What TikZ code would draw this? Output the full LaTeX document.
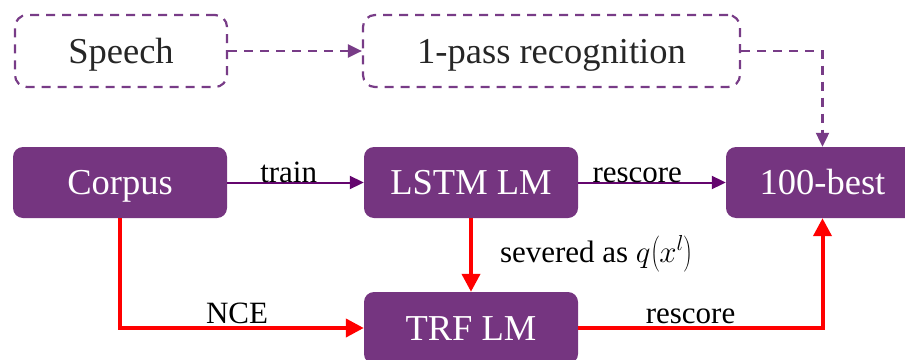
\RequirePackage{fix-cm}
\documentclass[tikz,border=0pt]{standalone}
\usepackage{fontspec}
\setmainfont{Liberation Serif}
\usetikzlibrary{arrows.meta,calc}
\definecolor{boxpurple}{RGB}{117,53,128}
\definecolor{dashpurple}{RGB}{120,60,135}
\definecolor{arrowpurple}{RGB}{100,5,110}
\definecolor{txtgray}{RGB}{38,38,38}
\definecolor{linered}{RGB}{255,0,0}
\begin{document}
\begin{tikzpicture}[x=1pt,y=-1pt,
  bigfont/.style={font=\fontsize{36.5}{40}\selectfont, text height=24pt, text depth=0pt},
  smallfont/.style={font=\fontsize{31}{34}\selectfont},
  solidbox/.style={bigfont, fill=boxpurple, draw=none, text=white, rounded corners=10pt,
    minimum width=214pt, minimum height=71pt, inner sep=0pt},
  dashbox/.style={bigfont, draw=dashpurple, line width=2.2pt, dash pattern=on 9pt off 7pt,
    text=txtgray, rounded corners=12pt, minimum height=72pt, inner sep=0pt},
  dasharrow/.style={draw=dashpurple, line width=2.2pt, dash pattern=on 9pt off 7pt,
    -{Triangle[length=14pt,width=13pt]}},
  purplearrow/.style={draw=arrowpurple, line width=2pt, -{Triangle[length=14pt,width=13pt]}},
  redarrow/.style={draw=linered, line width=4pt, -{Triangle[length=18pt,width=18pt]}},
  edgelabel/.style={smallfont, text=black, inner sep=1pt}
]
\useasboundingbox (0,0) rectangle (905,359);
\clip (0,0) rectangle (905,359);

\node[dashbox, minimum width=212pt] (speech) at (121,51) {Speech};
\node[dashbox, minimum width=377pt] (onepass) at (551.5,51) {1-pass recognition};

\node[solidbox] (corpus) at (120,182.5) {Corpus};
\node[solidbox] (lstm) at (471,182.5) {LSTM LM};
\node[solidbox, minimum width=193pt] (best) at (822.5,182.5) {100-best};
\node[solidbox, minimum height=72pt] (trf) at (471,328) {TRF LM};

\draw[dasharrow] (speech.east) -- (onepass.west);
\draw[dasharrow] (onepass.east) -| (best.north);

\draw[purplearrow] (corpus.east) -- node[edgelabel, above, pos=0.45, yshift=-2pt] {train} (lstm.west);
\draw[purplearrow] (lstm.east) -- node[edgelabel, above, pos=0.4, yshift=-2pt] {rescore} (best.west);

\draw[redarrow] (corpus.south) |- node[edgelabel, above, pos=0.74, yshift=1pt] {NCE} (trf.west);
\draw[redarrow] (lstm.south) -- node[edgelabel, right, xshift=26pt, yshift=1pt] {severed as $q\mathopen{}\left(\vrule height 23pt depth 7pt width 0pt x^{l}\right)$} (trf.north);
\draw[redarrow] (trf.east) -| node[edgelabel, above, pos=0.23, yshift=1pt] {rescore} (best.south);
\end{tikzpicture}
\end{document}
